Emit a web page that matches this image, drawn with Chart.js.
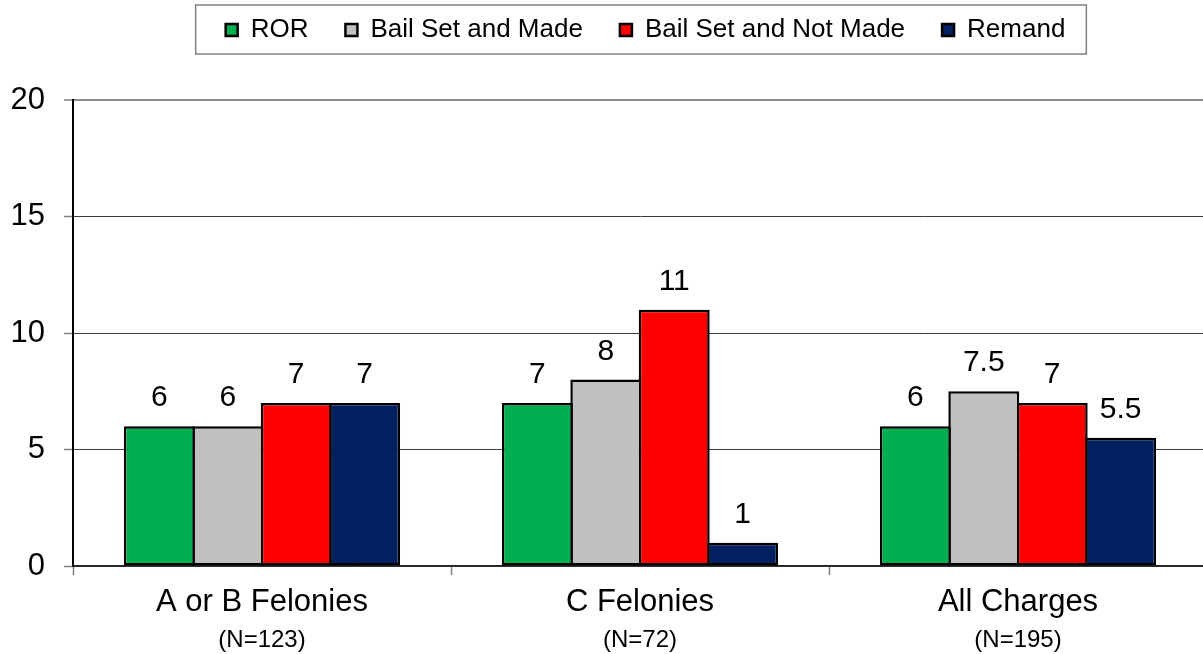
<!DOCTYPE html>
<html>
<head>
<meta charset="utf-8">
<title>Release status by charge</title>
<script src="https://cdn.jsdelivr.net/npm/chart.js@4.4.1/dist/chart.umd.min.js"></script>
<style>
  html, body { margin: 0; padding: 0; background: #fff; overflow: hidden; }
  #chart { display: block; }
</style>
</head>
<body>
<canvas id="chart" width="1207" height="654"></canvas>
<script>
const categories = ["A or B Felonies", "C Felonies", "All Charges"];
const caseCounts = ["(N=123)", "(N=72)", "(N=195)"];
const yTicks = [0, 5, 10, 15, 20];

const ror = [6, 7, 6];
const bailSetMade = [6, 8, 7.5];
const bailSetNotMade = [7, 11, 7];
const remand = [7, 1, 5.5];

const fontFamily = '"Liberation Sans", Arial, sans-serif';
Chart.defaults.font.family = fontFamily;
Chart.defaults.color = "#000";

const legendPadding = 37;
const legendFontSize = 26;

// Value above each bar, read straight from the dataset
const valueLabels = {
  id: "valueLabels",
  afterDatasetsDraw(chart) {
    const { ctx } = chart;
    ctx.save();
    ctx.font = `30px ${fontFamily}`;
    ctx.fillStyle = "#000";
    ctx.textAlign = "center";
    ctx.textBaseline = "alphabetic";
    chart.data.datasets.forEach((ds, i) => {
      chart.getDatasetMeta(i).data.forEach((bar, j) => {
        ctx.fillText(String(ds.data[j]), bar.x, bar.y - 20);
      });
    });
    ctx.restore();
  },
};

// Nudge the legend right/up and put a frame round it
const legendFrame = {
  id: "legendFrame",
  afterLayout(chart) {
    const legend = chart.legend;
    legend.left += 42;
    legend.right += 42;
    legend.top -= 47;
    legend.bottom -= 47;
  },
  afterDraw(chart) {
    const legend = chart.legend;
    const rowWidth = legend.lineWidths[0];
    const start = (legend.left + legendPadding + legend.right - rowWidth) / 2;
    const end = start + rowWidth - legendPadding;
    const mid = legend.top + legendPadding + legendFontSize / 2;
    const { ctx } = chart;
    ctx.save();
    ctx.strokeStyle = "#808080";
    ctx.lineWidth = 1.5;
    ctx.strokeRect(start - 30, mid - 25, end - start + 51, 49);
    ctx.restore();
  },
};

new Chart(document.getElementById("chart"), {
  type: "bar",
  data: {
    labels: categories,
    datasets: [
      { label: "ROR", data: ror, backgroundColor: "#00B050" },
      { label: "Bail Set and Made", data: bailSetMade, backgroundColor: "#C0C0C0" },
      { label: "Bail Set and Not Made", data: bailSetNotMade, backgroundColor: "#FF0000" },
      { label: "Remand", data: remand, backgroundColor: "#002060" },
    ],
  },
  options: {
    responsive: false,
    animation: false,
    devicePixelRatio: 1,
    layout: { padding: { top: 27, left: 0, right: 0, bottom: 0 } },
    datasets: {
      bar: {
        borderColor: "#000",
        borderWidth: 2.5,
        borderSkipped: false,
        categoryPercentage: 0.724,
        barPercentage: 1.037,
      },
    },
    plugins: {
      legend: {
        position: "top",
        labels: {
          font: { size: legendFontSize },
          color: "#000",
          boxWidth: 12,
          boxHeight: 12,
          padding: legendPadding,
        },
      },
      tooltip: { enabled: false },
    },
    scales: {
      x: {
        afterFit: (scale) => { scale.height = 52; },
        ticks: { font: { size: 31 }, color: "#000", padding: 9, maxRotation: 0, autoSkip: false },
        grid: { offset: true, drawOnChartArea: false, tickLength: 9, tickColor: "#808080", tickWidth: 1.5 },
        border: { color: "#222", width: 1.5 },
      },
      x2: {
        type: "category",
        labels: caseCounts,
        position: "bottom",
        offset: true,
        weight: 1,
        afterFit: (scale) => { scale.height = 36; },
        ticks: { font: { size: 24 }, color: "#000", padding: 0, maxRotation: 0, autoSkip: false },
        grid: { display: false },
        border: { display: false },
      },
      y: {
        min: 0,
        max: 20,
        afterBuildTicks: (scale) => { scale.ticks = yTicks.map((value) => ({ value })); },
        afterFit: (scale) => { scale.width = 73; },
        ticks: { font: { size: 31 }, color: "#000", padding: 19 },
        grid: {
          color: (c) => (c.tick && c.tick.value === 20 ? "#8a8a8a" : "#3a3a3a"),
          lineWidth: (c) => (c.tick && c.tick.value === 20 ? 2 : 1),
          borderDash: (c) => (c.tick && c.tick.value === 20 ? [] : [1, 2]),
          tickColor: "#808080",
          tickWidth: 1.5,
          tickLength: 9,
          tickBorderDash: [],
        },
        border: { color: "#000", width: 2 },
      },
    },
  },
  plugins: [valueLabels, legendFrame],
});
</script>
</body>
</html>
